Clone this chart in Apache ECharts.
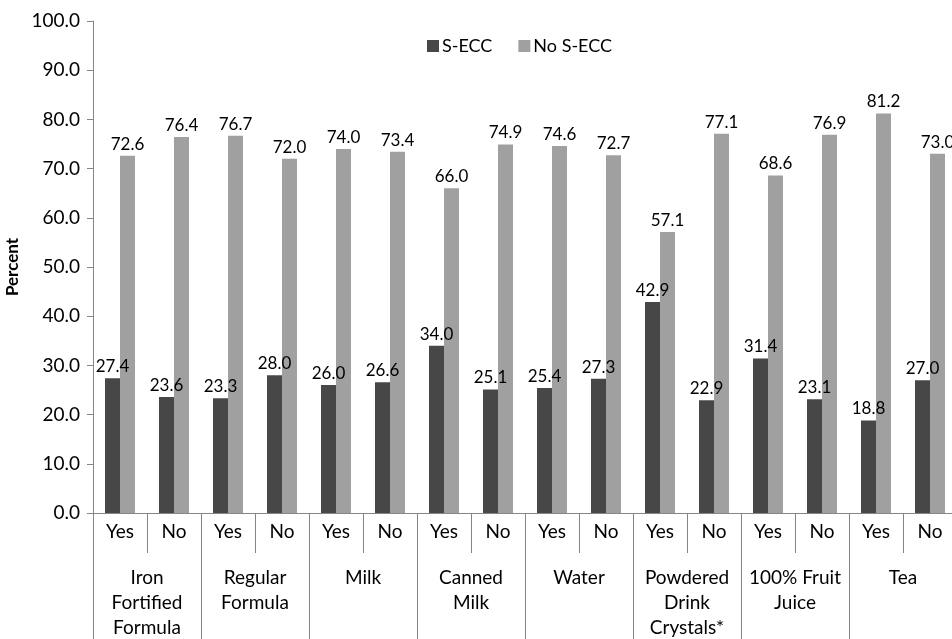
<!DOCTYPE html>
<html>
<head>
<meta charset="utf-8">
<script src="https://cdn.jsdelivr.net/npm/echarts@6/dist/echarts.min.js"></script>
<style>
  html, body { margin: 0; padding: 0; background: #fff; }
  #chart { width: 952px; height: 639px; }
</style>
</head>
<body>
<div id="chart"></div>
<script>
// sub categories (Yes / No per drink) and the drink groups under them
const subCats = ["Yes", "No", "Yes", "No", "Yes", "No", "Yes", "No",
                 "Yes", "No", "Yes", "No", "Yes", "No", "Yes", "No"];
const groups = ["Iron\nFortified\nFormula", "Regular\nFormula", "Milk", "Canned\nMilk",
                "Water", "Powdered\nDrink\nCrystals*", "100% Fruit\nJuice", "Tea"];
const seriesNames = ["S-ECC", "No S-ECC"];
const secc = [27.4, 23.6, 23.3, 28.0, 26.0, 26.6, 34.0, 25.1,
              25.4, 27.3, 42.9, 22.9, 31.4, 23.1, 18.8, 27.0];
const noSecc = [72.6, 76.4, 76.7, 72.0, 74.0, 73.4, 66.0, 74.9,
                74.6, 72.7, 57.1, 77.1, 68.6, 76.9, 81.2, 73.0];

const font = "Lato, 'Open Sans', sans-serif";
const axisGray = "#868686";

let myChart = echarts.init(document.getElementById("chart"));

let labelStyle = {
  show: true,
  position: "top",
  distance: 3,
  color: "#000",
  fontSize: 17,
  fontFamily: font,
  formatter: (p) => p.value.toFixed(1),
};

let option = {
  animation: false,
  backgroundColor: "#fff",
  legend: {
    data: seriesNames,
    left: 427,
    top: 37,
    padding: 0,
    icon: "rect",
    itemWidth: 12,
    itemHeight: 12,
    itemGap: 26,
    textStyle: { fontSize: 18, fontFamily: font, color: "#000", padding: [0, 0, 0, -2] },
  },
  grid: {
    left: 93,
    top: 21,
    width: 864,
    height: 492,
    containLabel: false,
    outerBoundsMode: "none",
  },
  xAxis: [
    {
      type: "category",
      data: subCats,
      position: "bottom",
      axisLine: { lineStyle: { color: axisGray, width: 1 } },
      axisTick: { show: true, length: 40, alignWithLabel: false, lineStyle: { color: axisGray } },
      axisLabel: { color: "#000", fontSize: 19, fontFamily: font, margin: 9, interval: 0 },
    },
    {
      type: "category",
      data: groups,
      position: "bottom",
      offset: 0,
      axisLine: { show: false },
      axisTick: { show: true, length: 126, alignWithLabel: false, lineStyle: { color: axisGray } },
      axisLabel: { color: "#000", fontSize: 19, fontFamily: font, margin: 52, lineHeight: 25, interval: 0 },
    },
  ],
  yAxis: {
    type: "value",
    min: 0,
    max: 100,
    interval: 10,
    name: "Percent",
    nameLocation: "middle",
    nameGap: 64,
    nameTextStyle: { fontSize: 17, fontWeight: "bold", fontFamily: font, color: "#000" },
    axisLine: { show: true, lineStyle: { color: axisGray } },
    axisTick: { show: true, length: 6, lineStyle: { color: axisGray } },
    splitLine: { show: false },
    axisLabel: {
      color: "#000",
      fontSize: 19,
      fontFamily: font,
      margin: 13,
      formatter: (v) => v.toFixed(1),
    },
  },
  series: [
    {
      name: seriesNames[0],
      type: "bar",
      data: secc,
      barWidth: 15,
      barGap: "0%",
      itemStyle: { color: "#474747" },
      label: labelStyle,
    },
    {
      name: seriesNames[1],
      type: "bar",
      data: noSecc,
      barWidth: 15,
      barGap: "0%",
      itemStyle: { color: "#a0a0a0" },
      label: labelStyle,
    },
  ],
};
myChart.setOption(option);
</script>
</body>
</html>
